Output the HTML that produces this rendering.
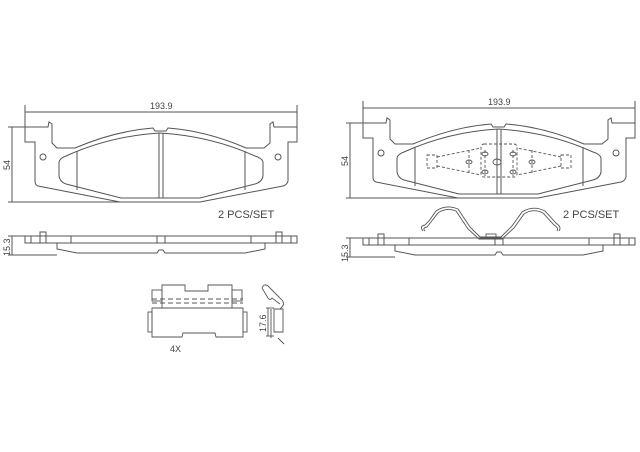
<!DOCTYPE html>
<html><head><style>
html,body{margin:0;padding:0;background:#fff;}
svg{display:block;}
text{font-family:"Liberation Sans",sans-serif;fill:#444;}
</style></head><body>
<svg width="640" height="452" viewBox="0 0 640 452" xmlns="http://www.w3.org/2000/svg">
<defs>
<g id="pad" fill="none" stroke="#555" stroke-width="1">
  <path d="M25,127 L48,127 L49,122 L52,124 L52,143 L57,148 L75,148 Q115,131 153,128 L155,131 L166,131 L168,128 Q207,131 246,148 L264,148 L270,143 L270,124 L273,122 L274,127 L297,127 L297,142 L288,142 L288,181 Q287,185 283,186 L200,202 L120,202 L38,186 Q35,185 35,181 L35,142 L25,142 Z"/>
  <path d="M59,162 Q60,158 66,156 Q110,136 160,133 Q211,136 255,156 Q262,158 263,162 L263,176 Q262,182 255,184 L200,198 L121,198 L66,184 Q60,182 59,176 Z"/>
  <line x1="77" y1="151" x2="77" y2="190"/>
  <line x1="245" y1="151" x2="245" y2="190"/>
  <line x1="159" y1="133" x2="159" y2="198"/>
  <line x1="163" y1="133" x2="163" y2="198"/>
  <circle cx="43" cy="157" r="3"/>
  <circle cx="278" cy="157" r="3"/>
  <line x1="25" y1="127" x2="25" y2="105"/>
  <line x1="297" y1="127" x2="297" y2="105"/>
  <line x1="25" y1="112" x2="297" y2="112"/>
  <line x1="8" y1="127" x2="48" y2="127"/>
  <line x1="8" y1="202" x2="120" y2="202"/>
  <line x1="12" y1="127" x2="12" y2="202"/>
</g>
<g id="side" fill="none" stroke="#555" stroke-width="1">
  <rect x="25" y="236" width="272" height="7"/>
  <rect x="40" y="232" width="6" height="4"/>
  <rect x="276" y="232" width="6" height="4"/>
  <line x1="31" y1="236" x2="31" y2="243"/><line x1="291" y1="236" x2="291" y2="243"/>
  <line x1="40" y1="236" x2="40" y2="243"/><line x1="46" y1="236" x2="46" y2="243"/>
  <line x1="276" y1="236" x2="276" y2="243"/><line x1="282" y1="236" x2="282" y2="243"/>
  <line x1="71" y1="236" x2="71" y2="243"/><line x1="251" y1="236" x2="251" y2="243"/>
  <line x1="157" y1="236" x2="157" y2="243"/><line x1="165" y1="236" x2="165" y2="243"/>
  <path d="M57,243 L57,249 L77,253 L157,253 L159,250 L163,250 L165,253 L245,253 L265,249 L265,243"/>
  <line x1="8" y1="236" x2="25" y2="236"/>
  <line x1="8" y1="255" x2="57" y2="255"/>
  <line x1="12" y1="236" x2="12" y2="255"/>
</g>
</defs>
<use href="#pad"/>
<text x="150" y="109" font-size="9">193.9</text>
<text x="0" y="0" font-size="9" transform="translate(10,170) rotate(-90)">54</text>
<use href="#side"/>
<text x="0" y="0" font-size="9" transform="translate(10,256) rotate(-90)">15.3</text>
<text x="218" y="218" font-size="11">2  PCS/SET</text>

<g transform="translate(338,-4)"><use href="#pad"/></g>
<text x="488" y="105" font-size="9">193.9</text>
<text x="0" y="0" font-size="9" transform="translate(348,166) rotate(-90)">54</text>
<g transform="translate(338,2)"><use href="#side"/></g>
<text x="0" y="0" font-size="9" transform="translate(348,262) rotate(-90)">15.3</text>
<text x="563" y="218" font-size="11">2  PCS/SET</text>

<g fill="none" stroke="#555" stroke-width="0.9" stroke-dasharray="3,2">
  <rect x="427" y="155" width="10" height="13"/>
  <rect x="561" y="155" width="10" height="13"/>
  <path d="M437,157 L481,148 M437,166 L481,175 M561,157 L517,148 M561,166 L517,175"/>
  <rect x="481" y="144" width="36" height="33" rx="3"/>
  <line x1="469" y1="150" x2="469" y2="174"/>
  <line x1="532" y1="150" x2="532" y2="174"/>
  <line x1="485" y1="150" x2="485" y2="176"/>
  <line x1="513" y1="150" x2="513" y2="176"/>
</g>
<g fill="none" stroke="#555" stroke-width="0.9">
  <ellipse cx="469" cy="162" rx="3" ry="2"/><ellipse cx="532" cy="162" rx="3" ry="2"/>
  <ellipse cx="485" cy="154" rx="3" ry="2"/><ellipse cx="485" cy="172" rx="3" ry="2"/>
  <ellipse cx="513" cy="154" rx="3" ry="2"/><ellipse cx="513" cy="172" rx="3" ry="2"/>
  <ellipse cx="497" cy="162" rx="4" ry="3"/>
  <rect x="486" y="234" width="10" height="4"/>
  <path d="M423,231 Q419,226 425,225 L429,221 L436,211 Q446,204 458,209 L470,227 L480,237 L501,237 L512,226 L522,212 Q533,205 545,211 L556,223 Q562,227 559,231"/>
  <path d="M425,231 Q422,228 427,227 L431,222 L438,213 Q446,207 456,211 L468,229 L479,239 L502,239 L514,228 L524,214 Q533,208 543,213 L554,225 Q559,228 557,231"/>
  <!-- bottom clip -->
  <path d="M162,308 L162,285 L185,285 L185,291 L208,291 L208,285 L232,285 L232,308"/>
  <rect x="152" y="290" width="10" height="11"/>
  <rect x="232" y="290" width="10" height="11"/>
  <path d="M152,308 L243,308 L243,337 L216,337 L215,333 L183,333 L182,337 L152,337 Z"/>
  <rect x="148" y="312" width="4" height="20"/>
  <rect x="243" y="312" width="4" height="20"/>
  <path d="M262,288 Q264,283 268,286 L282,300 Q285,304 282,307 L280,309 M262,288 L268,298 Q270,301 272,298 L280,304"/>
  <path d="M274,309 L283,309 L283,332 L274,332 Z M271,309 L271,338 M278,338 L284,344"/>
  <line x1="266" y1="308" x2="274" y2="308"/><line x1="266" y1="336" x2="274" y2="336"/>
  <line x1="268" y1="308" x2="268" y2="336"/>
</g>
<g fill="none" stroke="#555" stroke-width="0.9" stroke-dasharray="5,3">
  <line x1="152" y1="299" x2="243" y2="299"/>
  <line x1="152" y1="303" x2="243" y2="303"/>
</g>
<text x="170" y="352" font-size="9">4X</text>
<text x="0" y="0" font-size="9" transform="translate(266,332) rotate(-90)">17.6</text>
</svg>
</body></html>
